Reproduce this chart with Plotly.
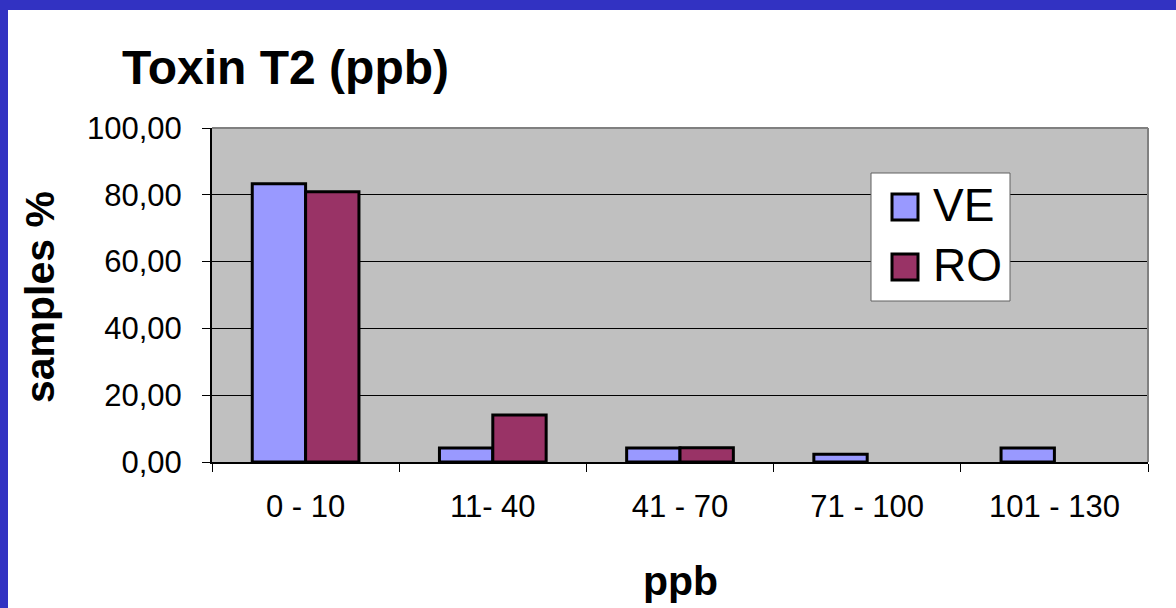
import plotly.graph_objects as go

# Data: share of samples (%) per T2 toxin concentration class
categories = ["0 - 10", "11- 40", "41 - 70", "71 - 100", "101 - 130"]
series_names = ["VE", "RO"]
ve_values = [83.3, 4.2, 4.2, 2.3, 4.2]
ro_values = [80.9, 14.1, 4.3, None, None]
y_ticks = [0, 20, 40, 60, 80, 100]

colors = {"VE": "#9999ff", "RO": "#993366"}
FONT = "Arial, Liberation Sans, sans-serif"

W, H = 1176, 608
L, R, T, B = 212, 28, 128, 146
PW, PH = W - L - R, H - T - B


def px(x):
    return (x - L) / PW


def py(y):
    return (H - B - y) / PH


fig = go.Figure()
for name, vals in zip(series_names, [ve_values, ro_values]):
    fig.add_trace(go.Bar(
        x=categories, y=vals, name=name,
        marker=dict(color=colors[name], line=dict(color="black", width=3)),
        showlegend=False,
    ))

shapes = [
    # blue frame strips
    dict(type="rect", xref="paper", yref="paper", x0=px(0), x1=px(8), y0=py(H), y1=py(0),
         fillcolor="#3232c2", line=dict(width=0), layer="below"),
    dict(type="rect", xref="paper", yref="paper", x0=px(0), x1=px(W), y0=py(10), y1=py(0),
         fillcolor="#3232c2", line=dict(width=0), layer="below"),
    # plot area border (top and right)
    dict(type="line", xref="paper", yref="paper", x0=0, x1=1, y0=1, y1=1,
         line=dict(color="#808080", width=2), layer="above"),
    dict(type="line", xref="paper", yref="paper", x0=1, x1=1, y0=0, y1=1,
         line=dict(color="#808080", width=2), layer="above"),
    # legend box
    dict(type="rect", xref="paper", yref="paper", x0=px(871), x1=px(1010), y0=py(301), y1=py(173),
         fillcolor="white", line=dict(color="#606060", width=1), layer="above"),
]

annotations = [
    dict(text="<b>Toxin T2 (ppb)</b>", xref="paper", yref="paper", x=px(120), y=py(68),
         xanchor="left", yanchor="middle", showarrow=False,
         font=dict(family=FONT, size=48, color="black")),
    dict(text="<b>samples %</b>", xref="paper", yref="paper", x=px(40), y=py(297),
         xanchor="center", yanchor="middle", showarrow=False, textangle=-90,
         font=dict(family=FONT, size=41, color="black")),
    dict(text="<b>ppb</b>", xref="paper", yref="paper", x=px(680), y=py(581),
         xanchor="center", yanchor="middle", showarrow=False,
         font=dict(family=FONT, size=41, color="black")),
]

# legend entries
legend_rows = [207, 267]
for name, yc in zip(series_names, legend_rows):
    shapes.append(dict(type="rect", xref="paper", yref="paper",
                       x0=px(892), x1=px(918), y0=py(yc + 13), y1=py(yc - 13),
                       fillcolor=colors[name], line=dict(color="black", width=3), layer="above"))
    annotations.append(dict(text=name, xref="paper", yref="paper", x=px(931), y=py(yc - 2),
                            xanchor="left", yanchor="middle", showarrow=False,
                            font=dict(family=FONT, size=46, color="black")))

fig.update_layout(
    width=W, height=H,
    margin=dict(l=L, r=R, t=T, b=B, pad=0),
    paper_bgcolor="white",
    plot_bgcolor="#c0c0c0",
    separators=",.",
    barmode="group",
    bargap=0.43,
    bargroupgap=0,
    font=dict(family=FONT, size=31, color="black"),
    shapes=shapes,
    annotations=annotations,
    showlegend=False,
)

fig.update_xaxes(
    type="category",
    showline=True, linecolor="black", linewidth=2,
    ticks="outside", ticklen=8, tickcolor="black", tickwidth=1,
    tickson="boundaries",
    ticklabelstandoff=16,
    showgrid=False,
    tickfont=dict(family=FONT, size=31, color="black"),
)

fig.update_yaxes(
    range=[0, 100],
    tickvals=y_ticks, tickformat=".2f",
    showline=True, linecolor="black", linewidth=2,
    ticks="outside", ticklen=8, tickcolor="black", tickwidth=1,
    ticklabelstandoff=14,
    showgrid=True, gridcolor="black", gridwidth=1,
    zeroline=False,
    tickfont=dict(family=FONT, size=31, color="black"),
)

fig.write_html("out.html")
